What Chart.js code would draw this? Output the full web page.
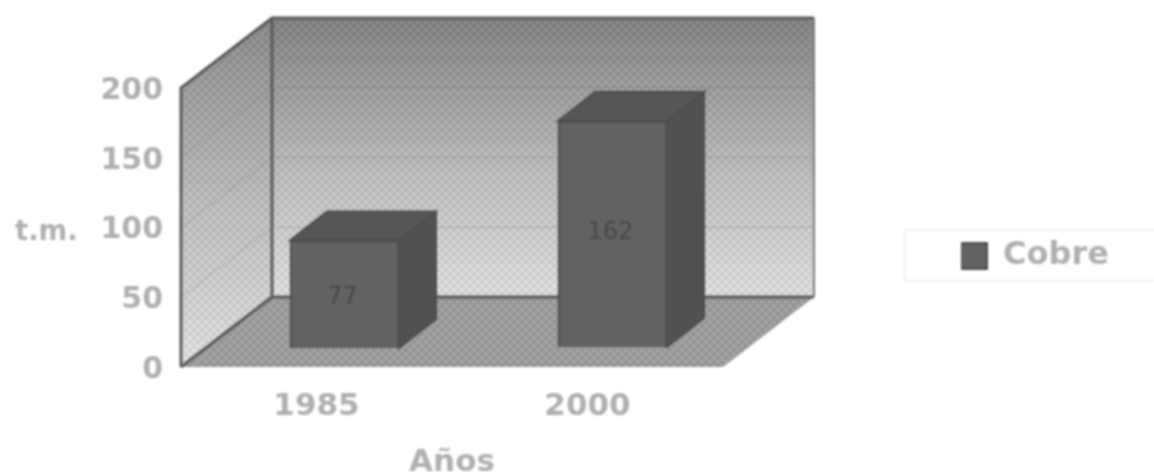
<!DOCTYPE html>
<html lang="es">
<head>
<meta charset="utf-8">
<title>Cobre</title>
<script src="https://cdn.jsdelivr.net/npm/chart.js@4"></script>
<style>
  html, body { margin: 0; background: #fff; }
  canvas { display: block; filter: blur(0.9px); }
</style>
</head>
<body>
<canvas id="grafico" width="1154" height="472"></canvas>
<script>
const anios = ['1985', '2000'];
const cobre = [77, 162];
const marcasY = [0, 50, 100, 150, 200];

const FUENTE = '"DejaVu Sans", Verdana, sans-serif';
const GRIS_TEXTO = '#b0b0b0';
const PROF_X = 91, PROF_Y = -70;       // fondo del cubo
const BARRA_X = [28, 25], BARRA_Y = [-19, -20]; // la barra va dentro del cubo
const BARRA_PROF_X = 37, BARRA_PROF_Y = -29;
const ETIQUETA_Y = [3, -1];

// trama de puntos del escaneado
function trama() {
  const c = document.createElement('canvas');
  c.width = c.height = 8;
  const g = c.getContext('2d');
  g.fillStyle = 'rgba(60,60,60,0.10)';
  g.fillRect(0, 0, 4, 4);
  g.fillRect(4, 4, 4, 4);
  g.fillStyle = 'rgba(255,255,255,0.08)';
  g.fillRect(4, 0, 4, 4);
  g.fillRect(0, 4, 4, 4);
  return c;
}

function poligono(ctx, puntos) {
  ctx.beginPath();
  puntos.forEach((p, i) => i ? ctx.lineTo(p[0], p[1]) : ctx.moveTo(p[0], p[1]));
  ctx.closePath();
}

const cubo = {
  id: 'cubo',
  beforeDatasetsDraw(chart) {
    const { ctx, scales: { x, y } } = chart;
    const l = x.left, r = x.right;
    const t = y.getPixelForValue(200), b = y.getPixelForValue(0);
    const patron = ctx.createPattern(trama(), 'repeat');
    ctx.save();

    // pared del fondo
    let g = ctx.createLinearGradient(0, t + PROF_Y, 0, b + PROF_Y);
    g.addColorStop(0, '#7f7f7f');
    g.addColorStop(0.55, '#bdbdbd');
    g.addColorStop(1, '#e2e2e2');
    ctx.fillStyle = g;
    ctx.fillRect(l + PROF_X, t + PROF_Y, r - l, b - t);
    ctx.fillStyle = patron;
    ctx.fillRect(l + PROF_X, t + PROF_Y, r - l, b - t);

    // pared izquierda
    const izq = [[l, t], [l + PROF_X, t + PROF_Y], [l + PROF_X, b + PROF_Y], [l, b]];
    g = ctx.createLinearGradient(0, t + PROF_Y, 0, b);
    g.addColorStop(0, '#878787');
    g.addColorStop(0.5, '#bbbbbb');
    g.addColorStop(1, '#e4e4e4');
    poligono(ctx, izq);
    ctx.fillStyle = g;
    ctx.fill();
    ctx.fillStyle = patron;
    ctx.fill();

    // suelo
    const suelo = [[l, b], [r, b], [r + PROF_X, b + PROF_Y], [l + PROF_X, b + PROF_Y]];
    poligono(ctx, suelo);
    ctx.fillStyle = '#9d9d9d';
    ctx.fill();
    ctx.fillStyle = patron;
    ctx.fill();

    // lineas de division
    ctx.lineWidth = 1;
    y.ticks.forEach(tk => {
      if (tk.value === 0) return;
      const py = y.getPixelForValue(tk.value);
      ctx.strokeStyle = 'rgba(95,95,95,0.3)';
      ctx.beginPath();
      ctx.moveTo(l, py);
      ctx.lineTo(l + PROF_X, py + PROF_Y);
      ctx.lineTo(r + PROF_X, py + PROF_Y);
      ctx.stroke();
    });

    // aristas
    ctx.strokeStyle = '#5a5a5a';
    ctx.lineWidth = 3;
    ctx.beginPath();
    ctx.moveTo(l, b);
    ctx.lineTo(l, t);
    ctx.lineTo(l + PROF_X, t + PROF_Y);
    ctx.lineTo(r + PROF_X, t + PROF_Y);
    ctx.moveTo(l + PROF_X, t + PROF_Y);
    ctx.lineTo(l + PROF_X, b + PROF_Y);
    ctx.lineTo(r + PROF_X, b + PROF_Y);
    ctx.moveTo(l, b);
    ctx.lineTo(l + PROF_X, b + PROF_Y);
    ctx.stroke();
    ctx.strokeStyle = '#7c7c7c';
    ctx.lineWidth = 2;
    ctx.beginPath();
    ctx.moveTo(r + PROF_X, t + PROF_Y);
    ctx.lineTo(r + PROF_X, b + PROF_Y);
    ctx.stroke();
    ctx.restore();
  },
  afterDatasetsDraw(chart) {
    const { ctx } = chart;
    const meta = chart.getDatasetMeta(0);
    ctx.save();
    meta.data.forEach((barra, i) => {
      const { x, y, base, width } = barra.getProps(['x', 'y', 'base', 'width']);
      const a = x - width / 2, d = x + width / 2;
      ctx.strokeStyle = '#4d4d4d';
      ctx.lineWidth = 2;
      // lado
      poligono(ctx, [[d, y], [d + BARRA_PROF_X, y + BARRA_PROF_Y], [d + BARRA_PROF_X, base + BARRA_PROF_Y], [d, base]]);
      ctx.fillStyle = '#515151';
      ctx.fill();
      ctx.stroke();
      // tapa
      poligono(ctx, [[a, y], [a + BARRA_PROF_X, y + BARRA_PROF_Y], [d + BARRA_PROF_X, y + BARRA_PROF_Y], [d, y]]);
      ctx.fillStyle = '#565656';
      ctx.fill();
      ctx.stroke();
      // valor
      ctx.fillStyle = '#484848';
      ctx.font = '24px ' + FUENTE;
      ctx.textAlign = 'center';
      ctx.textBaseline = 'middle';
      ctx.fillText(String(cobre[i]), x - 2, (y + base) / 2 + ETIQUETA_Y[i]);
    });

    // titulo del eje y, horizontal
    ctx.fillStyle = GRIS_TEXTO;
    ctx.font = 'bold 27.5px ' + FUENTE;
    ctx.textAlign = 'left';
    ctx.textBaseline = 'middle';
    ctx.fillText('t.m.', 15, chart.scales.y.getPixelForValue(100) + 5);

    // marco de la leyenda
    ctx.strokeStyle = '#f0f0f0';
    ctx.lineWidth = 2;
    ctx.strokeRect(905, 230, 260, 51);
    ctx.restore();
  },
  afterDatasetUpdate(chart, args) {
    chart.getDatasetMeta(args.index).data.forEach((barra, i) => {
      barra.x += BARRA_X[i];
      barra.y += BARRA_Y[i];
      barra.base += BARRA_Y[i];
    });
  },
  afterLayout(chart) {
    const ley = chart.legend;
    ley.left = 961;
    ley.top = 240;
    ley.right = 1150;
    ley.bottom = 272;
  }
};

new Chart(document.getElementById('grafico'), {
  type: 'bar',
  data: {
    labels: anios,
    datasets: [{
      label: 'Cobre',
      data: cobre,
      backgroundColor: '#626262',
      borderColor: '#4d4d4d',
      borderWidth: 2,
      barThickness: 109,
      clip: false
    }]
  },
  plugins: [cubo],
  options: {
    responsive: false,
    animation: false,
    layout: { padding: { left: 0, top: 88, right: 431, bottom: 0 } },
    plugins: {
      tooltip: { enabled: false },
      legend: {
        position: 'chartArea',
        align: 'start',
        labels: {
          boxWidth: 26,
          boxHeight: 26,
          padding: 0,
          color: GRIS_TEXTO,
          font: { family: FUENTE, size: 32, weight: 'bold' }
        }
      }
    },
    scales: {
      x: {
        grid: { display: false },
        border: { display: false },
        afterFit(s) { s.height = 105; },
        ticks: {
          padding: 13,
          color: GRIS_TEXTO,
          font: { family: FUENTE, size: 31, weight: 'bold' }
        },
        title: {
          display: true,
          text: 'Años',
          color: GRIS_TEXTO,
          padding: 0,
          font: { family: FUENTE, size: 31, weight: 'bold', lineHeight: 0.6 }
        }
      },
      y: {
        min: 0,
        max: 200,
        grid: { display: false },
        border: { display: false },
        afterFit(s) { s.width = 181; },
        afterBuildTicks(s) { s.ticks = marcasY.map(v => ({ value: v })); },
        ticks: {
          padding: 10,
          labelOffset: 3,
          color: GRIS_TEXTO,
          font: { family: FUENTE, size: 30, weight: 'bold' }
        }
      }
    }
  }
});
</script>
</body>
</html>
